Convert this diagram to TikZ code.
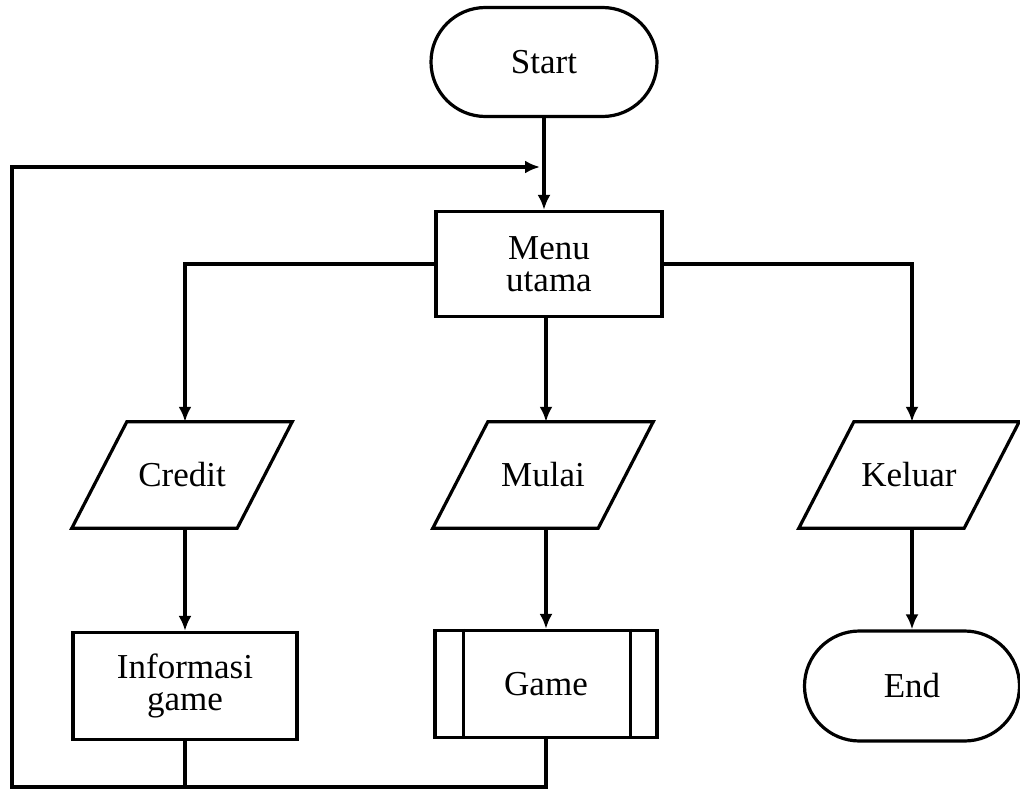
\documentclass[tikz,border=0pt]{standalone}
\usepackage{fontspec}
\setmainfont{Liberation Serif}
\usetikzlibrary{shapes.misc,arrows.meta}
\begin{document}
\begin{tikzpicture}[x=1pt,y=-1pt,
  every node/.style={font=\fontsize{35}{32}\selectfont, align=center, inner sep=0pt},
  term/.style={draw, rounded rectangle, line width=3.2pt},
  proc/.style={draw, rectangle, line width=3.2pt},
  iobox/.style={rectangle, minimum width=220pt, minimum height=106pt},
  line/.style={line width=3.2pt},
  arr/.style={line width=3.2pt, -{Latex[length=15pt,width=13pt]}}]
\useasboundingbox (0,0) rectangle (1020,789);
\node[term, minimum width=226pt, minimum height=109pt] (start) at (544,62) {Start};
\node[proc, minimum width=226pt, minimum height=105pt] (menu) at (549,264) {Menu\\utama};
\coordinate (mid) at (546,264);
\node[iobox] (credit) at (182,475) {Credit};
\node[iobox] (mulai) at (543,475) {Mulai};
\node[iobox] (keluar) at (909,475) {Keluar};
\foreach \n in {credit,mulai,keluar}{
  \draw[line, line join=miter] ([xshift=55pt]\n.north west) -- (\n.north east) -- ([xshift=-55pt]\n.south east) -- (\n.south west) -- cycle;
}
\node[proc, minimum width=224pt, minimum height=107pt] (info) at (185,686) {Informasi\\game};
\node[proc, minimum width=222pt, minimum height=107pt] (game) at (546,684) {Game};
\draw[line] ([xshift=30pt]game.north west) -- ([xshift=30pt]game.south west);
\draw[line] ([xshift=-28pt]game.north east) -- ([xshift=-28pt]game.south east);
\node[term, minimum width=215pt, minimum height=110pt] (end) at (912,686) {End};
\coordinate (join) at (546,167);
\coordinate (bl) at (12,787);
\coordinate (tl) at (12,167);
\draw[arr] (start.south) -- (start.south |- menu.north);
\draw[arr] (menu.west) -| ([xshift=3pt]credit.north);
\draw[arr] (mid |- menu.south) -- ([xshift=3pt]mulai.north);
\draw[arr] (menu.east) -| ([xshift=3pt]keluar.north);
\draw[arr] ([xshift=3pt]credit.south) -- (info.north);
\draw[arr] ([xshift=3pt]mulai.south) -- (game.north);
\draw[arr] ([xshift=3pt]keluar.south) -- (end.north);
\draw[line] (info.south) -- (info.south |- bl);
\draw[arr, line join=miter] (game.south) |- (bl) -- (tl) -- ([xshift=-6pt]join);
\end{tikzpicture}
\end{document}
